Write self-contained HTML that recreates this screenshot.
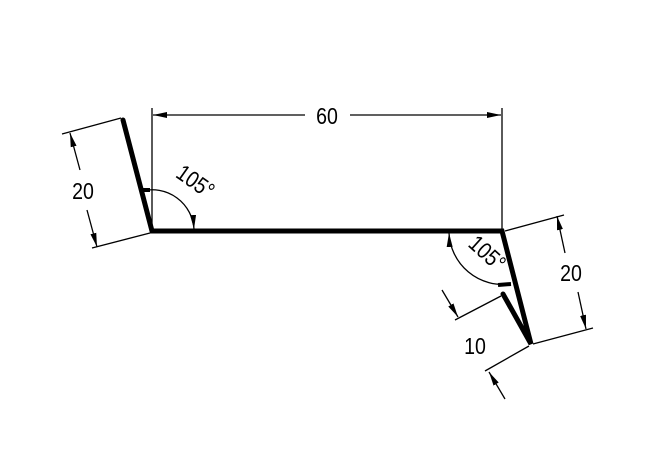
<!DOCTYPE html>
<html><head><meta charset="utf-8"><style>html,body{margin:0;padding:0;background:#fff}svg{display:block}</style></head>
<body>
<svg width="650" height="464" viewBox="0 0 650 464" xmlns="http://www.w3.org/2000/svg">
<defs>
<marker id="a" markerWidth="14" markerHeight="8" refX="14" refY="4" orient="auto" markerUnits="userSpaceOnUse">
<path d="M0,1 L14,4 L0,7 Z" fill="#000"/>
</marker>
</defs>
<g fill="none" stroke="#000">
<polyline points="123,120 152,231 502,231 531,344 503,294" stroke-width="5" stroke-linejoin="miter" stroke-linecap="round"/>
<line x1="152" y1="108" x2="152" y2="231" stroke-width="1.3"/>
<line x1="502" y1="108" x2="502" y2="231" stroke-width="1.3"/>
<line x1="305" y1="115" x2="153" y2="115" stroke-width="1.3" marker-end="url(#a)"/>
<line x1="350" y1="115" x2="501" y2="115" stroke-width="1.3" marker-end="url(#a)"/>
<line x1="121" y1="118" x2="62" y2="134" stroke-width="1.3"/>
<line x1="150" y1="233" x2="92" y2="248" stroke-width="1.3"/>
<line x1="80" y1="170" x2="70" y2="133" stroke-width="1.3" marker-end="url(#a)"/>
<line x1="87" y1="210" x2="97" y2="247" stroke-width="1.3" marker-end="url(#a)"/>
<path d="M142,191 A42,42 0 0 1 194,229" stroke-width="1.3" marker-end="url(#a)"/>
<line x1="150" y1="190" x2="143" y2="190" stroke-width="4"/>
<line x1="505" y1="231" x2="564" y2="215" stroke-width="1.3"/>
<line x1="533" y1="344" x2="593" y2="328" stroke-width="1.3"/>
<line x1="565" y1="253" x2="557" y2="216" stroke-width="1.3" marker-end="url(#a)"/>
<line x1="578" y1="292" x2="586" y2="329" stroke-width="1.3" marker-end="url(#a)"/>
<path d="M510,284 A54,54 0 0 1 449,233" stroke-width="1.3" marker-end="url(#a)"/>
<line x1="498" y1="285" x2="511" y2="284" stroke-width="4"/>
<line x1="501" y1="296" x2="455" y2="320" stroke-width="1.3"/>
<line x1="529" y1="346" x2="485" y2="371" stroke-width="1.3"/>
<line x1="442" y1="290" x2="458" y2="317" stroke-width="1.3" marker-end="url(#a)"/>
<line x1="505" y1="399" x2="489" y2="372" stroke-width="1.3" marker-end="url(#a)"/>
</g>
<g font-family="Liberation Sans, sans-serif" font-size="23" fill="#000" text-anchor="middle">
<text x="0" y="0" transform="translate(327,124) scale(0.85,1)">60</text>
<text x="0" y="0" transform="translate(83,199) scale(0.85,1)">20</text>
<text x="0" y="0" transform="translate(571,281) scale(0.85,1)">20</text>
<text x="0" y="0" transform="translate(475,354) scale(0.85,1)">10</text>
<text x="0" y="0" transform="translate(191,188) rotate(35) scale(0.85,1)">105°</text>
<text x="0" y="0" transform="translate(482,259) rotate(42) scale(0.85,1)">105°</text>
</g>
</svg>
</body></html>
